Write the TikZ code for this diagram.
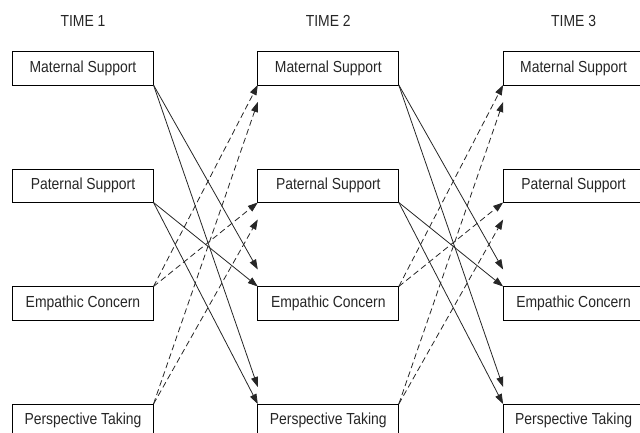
\documentclass[tikz,border=0pt]{standalone}
\usepackage{fontspec}
\setmainfont{Liberation Sans}[FakeStretch=0.87]
\usetikzlibrary{matrix,
	positioning,
	arrows.meta}
\tikzstyle{box}=[draw, minimum width=141pt, minimum height=33.5pt, inner sep=0, outer sep=0]
\tikzstyle{lbl}=[inner sep=0]
\tikzstyle{fwd}=[-{Triangle[length=10pt,width=7pt]}]
\tikzstyle{back}=[fwd, dash pattern=on 6pt off 3.5pt]
\tikzstyle{waves}=[ampersand replacement=\&, column sep=103.5pt, row sep=83.2pt,
		inner sep=0pt]

\begin{document}
\begin{tikzpicture}[x=1pt, y=-1pt, line width=0.8pt, color=black!85,
		font=\fontsize{16}{18}\selectfont]
            \useasboundingbox (0,0) rectangle (640,433);
            \matrix (grid) [waves, anchor=north west] at (11.7,50.7) {
                \node[box] (ms1) {Maternal Support}; \& \node[box] (ms2) {Maternal Support}; \& \node[box] (ms3) {Maternal Support}; \\
                \node[box] (ps1) {Paternal Support}; \& \node[box] (ps2) {Paternal Support}; \& \node[box] (ps3) {Paternal Support}; \\
                \node[box] (ec1) {Empathic Concern}; \& \node[box] (ec2) {Empathic Concern}; \& \node[box] (ec3) {Empathic Concern}; \\
                \node[box] (pt1) {Perspective Taking}; \& \node[box] (pt2) {Perspective Taking}; \& \node[box] (pt3) {Perspective Taking}; \\
            };
            \node[lbl, above=24.5pt of ms1] (t1) {TIME 1};
            \node[lbl, above=24.5pt of ms2] (t2) {TIME 2};
            \node[lbl, above=24.5pt of ms3] (t3) {TIME 3};
            % time 1 -> time 2
            \draw[fwd] (ms1.south east) -- ([yshift=17pt]ec2.north west);
            \draw[fwd] (ms1.south east) -- ([yshift=17pt]pt2.north west);
            \draw[fwd] (ps1.south east) -- (ec2.north west);
            \draw[fwd] (ps1.south east) -- (pt2.north west);
            \draw[back] (ec1.north east) -- (ms2.south west);
            \draw[back] (ec1.north east) -- (ps2.south west);
            \draw[back] (pt1.north east) -- ([yshift=-17pt]ms2.south west);
            \draw[back] (pt1.north east) -- ([yshift=-17pt]ps2.south west);
            % time 2 -> time 3
            \draw[fwd] (ms2.south east) -- ([yshift=17pt]ec3.north west);
            \draw[fwd] (ms2.south east) -- ([yshift=17pt]pt3.north west);
            \draw[fwd] (ps2.south east) -- (ec3.north west);
            \draw[fwd] (ps2.south east) -- (pt3.north west);
            \draw[back] (ec2.north east) -- (ms3.south west);
            \draw[back] (ec2.north east) -- (ps3.south west);
            \draw[back] (pt2.north east) -- ([yshift=-17pt]ms3.south west);
            \draw[back] (pt2.north east) -- ([yshift=-17pt]ps3.south west);
        \end{tikzpicture}
\end{document}
